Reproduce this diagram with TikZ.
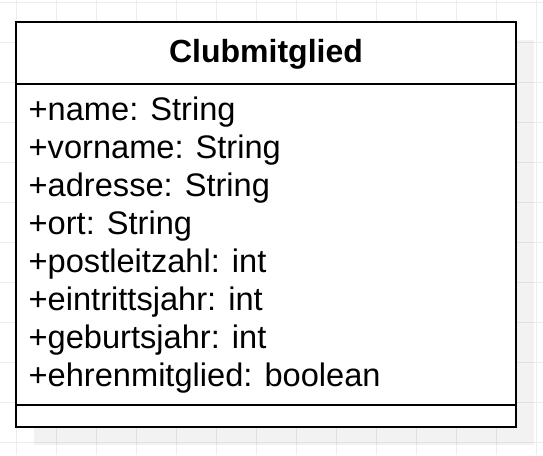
\documentclass[tikz,border=0pt]{standalone}
\usepackage{fontspec}
\setmainfont{Liberation Sans}
\definecolor{gridgray}{HTML}{EDEDED}
\begin{document}
\begin{tikzpicture}[x=1pt,y=-1pt]
	\tikzstyle{every node}=[font=\fontsize{32.6}{38}\selectfont, inner sep=0pt]
	\tikzstyle{gridline}=[draw=gridgray, line width=1pt]
	\tikzstyle{umlbox}=[draw=black, fill=white, line width=2pt]
	
	\useasboundingbox (0,0) rectangle (543,455);
	\fill [white] (0,0) rectangle (543,455);
	
	% background grid
	\foreach \x in {16,56,...,536} \draw [gridline] (\x,0) -- (\x,455);
	\foreach \y in {2,42,...,442} \draw [gridline] (0,\y) -- (543,\y);
	
	% shadow
	\fill [black, opacity=0.05] (34,40) rectangle (534,445);
	
	% class box
	\draw [umlbox] (16,22) rectangle (516,427);
	\draw [line width=2pt] (16,84) -- (516,84);
	\draw [line width=2pt] (16,405) -- (516,405);
	
	\node [font=\fontsize{32}{38}\selectfont\bfseries, anchor=base] (title) at (266,62) {Clubmitglied};
	
	\foreach \attr [count=\i] in {+name: String, +vorname: String, +adresse: String, +ort: String, +postleitzahl: int, +eintrittsjahr: int, +geburtsjahr: int, +ehrenmitglied: boolean}
	\node [anchor=base west] (attr\i) at (28.5,82+38*\i) {\attr};
	
\end{tikzpicture}
\end{document}
